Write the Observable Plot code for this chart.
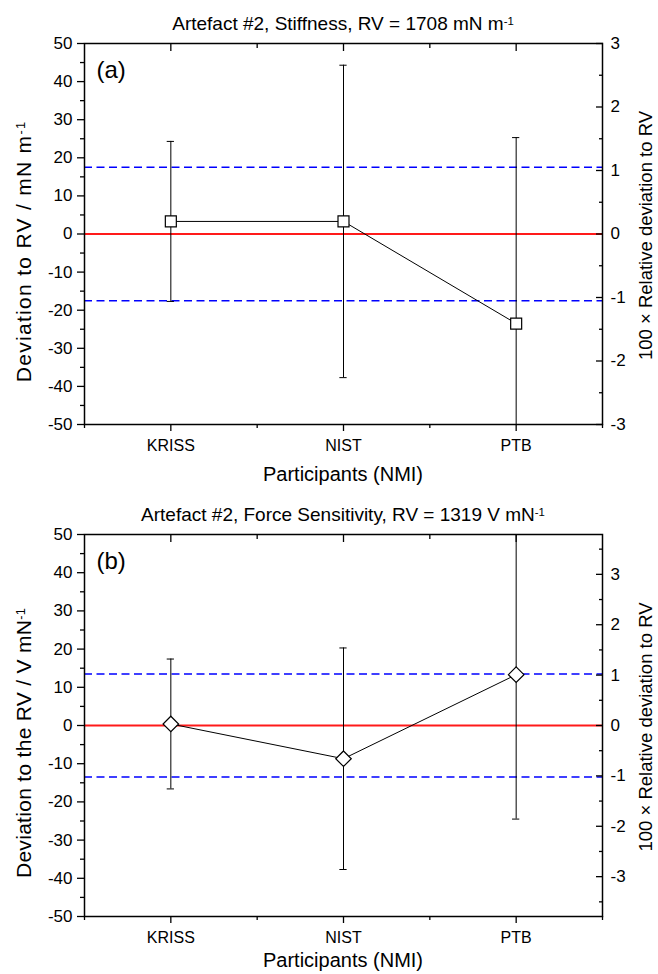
<!DOCTYPE html>
<html><head><meta charset="utf-8">
<script src="https://cdn.jsdelivr.net/npm/d3@7"></script>
<script src="https://cdn.jsdelivr.net/npm/@observablehq/plot@0.6"></script>
<style>body{margin:0;background:#fff} svg{display:block}</style>
</head><body><div id="chart"></div>
<script>
const categories = ["KRISS", "NIST", "PTB"];
const stiffnessDeviation = [3.3, 3.3, -23.5];
const stiffnessUncertainty = [21, 41, 48.8];
const sensitivityDeviation = [0.4, -8.7, 13.3];
const sensitivityUncertainty = [17, 29, 37.8];
const stiffnessLimit = 17.5;
const sensitivityLimit = 13.5;
const leftTicks = [-50, -40, -30, -20, -10, 0, 10, 20, 30, 40, 50];
const leftMinorTicks = [-45, -35, -25, -15, -5, 5, 15, 25, 35, 45];
const rightTicksA = [-3, -2, -1, 0, 1, 2, 3];
const rightMinorA = [-2.5, -1.5, -0.5, 0.5, 1.5, 2.5];
const rightTicksB = [-3, -2, -1, 0, 1, 2, 3];
const rightMinorB = [-3.5, -2.5, -1.5, -0.5, 0.5, 1.5, 2.5, 3.5];
const rightUnitA = 50 / 3;   // left-axis units per right-axis unit
const rightUnitB = 13.19;    // 1 % of RV = 1319 V/mN

const FONT = "'Liberation Sans', Arial, Helvetica, sans-serif";

function panel(o) {
  const data = categories.map((c, i) => ({i, c, v: o.dev[i], e: o.unc[i]}));
  const caps = data.flatMap(d => [{i: d.i, y: d.v - d.e}, {i: d.i, y: d.v + d.e}]);
  const H = 487, W = 658, mL = 84, mR = 56;
  const svg = Plot.plot({
    width: W, height: H, marginLeft: mL, marginRight: mR,
    marginTop: o.marginTop, marginBottom: o.marginBottom,
    style: {fontFamily: FONT, fontSize: "17px", color: "black", background: "white"},
    x: {type: "linear", domain: [-0.5, 2.5], label: null},
    y: {domain: [-50, 50], label: null},
    marks: [
      Plot.ruleY([0], {stroke: "#ff1a1a", strokeWidth: 1.8}),
      Plot.ruleY([-o.limit, o.limit], {stroke: "#0000ff", strokeWidth: 1.5, strokeDasharray: "8,4.5"}),
      Plot.ruleX(data, {x: "i", y1: d => d.v - d.e, y2: d => d.v + d.e, stroke: "black", strokeWidth: 1, clip: true}),
      Plot.ruleY(caps, {y: "y", x1: d => d.i - 0.021, x2: d => d.i + 0.021, stroke: "black", strokeWidth: 1, clip: true}),
      Plot.line(data, {x: "i", y: "v", stroke: "black", strokeWidth: 1}),
      Plot.dot(data, {x: "i", y: "v", symbol: o.symbol, r: o.r, fill: "white", stroke: "black", strokeWidth: 1.2}),
      Plot.frame({stroke: "black", strokeWidth: 1.5}),
      Plot.axisY({anchor: "left", ticks: leftTicks, tickSize: 7, tickPadding: 5, tickFormat: d => String(d), label: null, fontSize: 17, strokeWidth: 1.3}),
      Plot.axisY({anchor: "left", ticks: leftMinorTicks, tickSize: 4, tickFormat: () => "", label: null, strokeWidth: 1.3}),
      Plot.axisY({anchor: "right", ticks: o.rTicks.map(t => t * o.rUnit), tickSize: 7, dx: -7, tickFormat: () => "", label: null, strokeWidth: 1.3}),
      Plot.axisY({anchor: "right", ticks: o.rMinor.map(t => t * o.rUnit), tickSize: 4, dx: -4, tickFormat: () => "", label: null, strokeWidth: 1.3}),
      Plot.axisY({anchor: "right", ticks: o.rTicks.map(t => t * o.rUnit), tickSize: 0, tickPadding: 8, tickFormat: d => String(Math.round(d / o.rUnit)), label: null, fontSize: 17}),
      Plot.axisX({anchor: "bottom", ticks: [0, 1, 2], tickSize: 7, tickPadding: 8, tickFormat: i => categories[i], label: null, fontSize: 16, strokeWidth: 1.3}),
      Plot.axisX({anchor: "bottom", ticks: [-0.5, 0.5, 1.5, 2.5], tickSize: 4, tickFormat: () => "", label: null, strokeWidth: 1.3}),
      Plot.axisX({anchor: "top", ticks: [0, 1, 2], tickSize: 7, dy: 7, tickFormat: () => "", label: null, strokeWidth: 1.3}),
      Plot.axisX({anchor: "top", ticks: [0.5, 1.5], tickSize: 4, dy: 4, tickFormat: () => "", label: null, strokeWidth: 1.3}),
      Plot.text([o.tag], {text: d => d, frameAnchor: "top-left", textAnchor: "start", lineAnchor: "bottom", dx: 12, dy: 34, fontSize: 24})
    ]
  });
  const s = d3.select(svg);
  const cx = (mL + (W - mR)) / 2;
  const top = o.marginTop, bottom = H - o.marginBottom, cy = (top + bottom) / 2;
  function sup(sel, main, supText, size) {
    sel.attr("font-size", size).text(main);
    sel.append("tspan").attr("font-size", size * 0.6).attr("dy", -size * 0.27).text(supText);
    return sel;
  }
  sup(s.append("text").attr("x", cx).attr("y", top - 13).attr("text-anchor", "middle"), o.title, "-1", 19);
  sup(s.append("text").attr("transform", `translate(31,${cy + 18}) rotate(-90)`).attr("text-anchor", "middle"), o.ylabel, "-1", 21)
    .attr("letter-spacing", o.ylabelSpacing);
  s.append("text").attr("transform", `translate(652,${cy + 2}) rotate(-90)`).attr("text-anchor", "middle")
    .attr("font-size", 18.5).text("100 \u00d7 Relative deviation to RV");
  s.append("text").attr("x", cx).attr("y", bottom + o.xlabelGap).attr("text-anchor", "middle")
    .attr("font-size", 20).text("Participants (NMI)");
  return svg;
}

const root = document.getElementById("chart");
root.appendChild(panel({
  title: "Artefact #2, Stiffness, RV = 1708 mN m", ylabel: "Deviation to RV / mN m", tag: "(a)",
  dev: stiffnessDeviation, unc: stiffnessUncertainty, limit: stiffnessLimit,
  symbol: "square", r: 6.2, rTicks: rightTicksA, rMinor: rightMinorA, rUnit: rightUnitA,
  marginTop: 43, marginBottom: 63, xlabelGap: 57, ylabelSpacing: 1.3
}));
root.appendChild(panel({
  title: "Artefact #2, Force Sensitivity, RV = 1319 V mN", ylabel: "Deviation to the RV / V mN", tag: "(b)",
  dev: sensitivityDeviation, unc: sensitivityUncertainty, limit: sensitivityLimit,
  symbol: "diamond2", r: 7, rTicks: rightTicksB, rMinor: rightMinorB, rUnit: rightUnitB,
  marginTop: 47, marginBottom: 58, xlabelGap: 51, ylabelSpacing: 0.3
}));
</script>
</body></html>
